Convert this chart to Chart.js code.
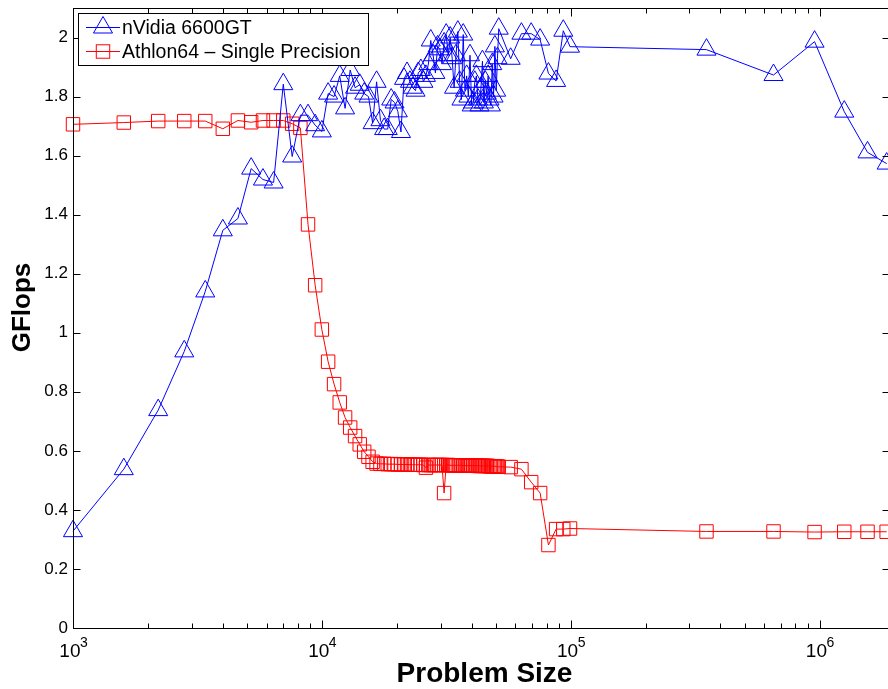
<!DOCTYPE html>
<html><head><meta charset="utf-8">
<script src="https://cdn.jsdelivr.net/npm/chart.js@4/dist/chart.umd.min.js"></script>
<style>
html,body{margin:0;padding:0;background:#fff;overflow:hidden;width:888px;height:689px;}
#wrap{position:absolute;left:0;top:0;width:890px;height:689px;}
</style></head><body>
<div id="wrap"><canvas id="c"></canvas></div>
<script>
const problemSize = [1000,1600,2200,2800,3400,4000,4600,5200,5800,6400,7000,7600,8200,8800,9400,10000,
  10600,11200,11800,12400,13000,13600,14200,14800,15400,16000,
  16600,17200,17800,18400,19000,19600,20200,20800,21400,22000,
  22600,23200,23800,24400,25000,25600,26200,26800,27400,28000,
  28600,29200,29800,30400,31000,31600,32200,32800,33400,34000,
  34600,35200,35800,36400,37000,37600,38200,38800,39400,40000,
  40600,41200,41800,42400,43000,43600,44200,44800,45400,46000,
  46600,47200,47800,48400,49000,49600,50200,50800,51400,
  57400,63400,69400,75400,81400,87400,93400,99400,351400,653400,955400,1257400,1559400,1861400];

const gpuGflops = [0.328,0.538,0.738,0.937,1.140,1.347,1.387,1.556,1.519,1.509,1.842,1.597,1.737,1.737,1.703,1.682,
  1.81,1.80,1.87,1.76,1.89,1.83,1.84,1.81,1.80,1.71,
  1.85,1.72,1.69,1.69,1.79,1.78,1.75,1.68,1.86,1.88,
  1.85,1.83,1.82,1.88,1.89,1.85,1.87,1.91,1.99,1.94,
  1.88,1.97,1.96,1.91,1.98,2.01,1.94,2.00,1.93,1.83,
  1.94,2.02,1.85,1.79,2.01,1.82,1.87,1.80,1.94,1.77,
  1.78,1.85,1.87,1.79,1.77,1.83,1.92,1.78,1.85,1.81,
  1.87,1.79,1.77,1.91,1.80,1.97,1.82,1.93,2.03,
  1.928,2.013,2.013,1.993,1.878,1.853,2.023,1.969,1.959,1.873,1.986,1.749,1.611,1.573];

const cpuGflops = [1.706,1.712,1.717,1.717,1.717,1.691,1.719,1.713,1.719,1.719,1.719,1.708,1.694,
  1.367,1.161,1.011,0.902,0.826,0.764,0.713,0.679,0.650,0.622,0.597,0.580,0.563,
  0.557,0.556,0.556,0.555,0.555,0.555,0.554,0.554,0.554,0.554,
  0.553,0.553,0.553,0.553,0.553,0.552,0.543,0.552,0.552,0.552,
  0.552,0.552,0.552,0.552,0.457,0.552,0.552,0.551,0.551,0.551,
  0.551,0.551,0.551,0.551,0.550,0.550,0.550,0.550,0.550,0.550,
  0.550,0.550,0.550,0.549,0.549,0.549,0.549,0.549,0.549,0.549,
  0.549,0.548,0.548,0.548,0.548,0.548,0.547,0.547,0.546,
  0.545,0.538,0.494,0.457,0.281,0.335,0.335,0.337,0.327,0.327,0.325,0.326,0.326,0.326];

const seriesNames = ['nVidia 6600GT', 'Athlon64 \u2013 Single Precision'];
const seriesColors = ['#0000ff', '#ff0000'];
const xTickExponents = [3, 4, 5, 6];
const yTickValues = [0, 0.2, 0.4, 0.6, 0.8, 1, 1.2, 1.4, 1.6, 1.8, 2];
const xAxisTitle = 'Problem Size';
const yAxisTitle = 'GFlops';

const FONT = '"Liberation Sans", Arial, Helvetica, sans-serif';
const TRI_R = 11, SQ_R = 9.5;

function drawTri(ctx, cx, cy, r) {
  ctx.beginPath();
  ctx.moveTo(cx, cy - r);
  ctx.lineTo(cx + r * 0.8660254, cy + r / 2);
  ctx.lineTo(cx - r * 0.8660254, cy + r / 2);
  ctx.closePath();
  ctx.stroke();
}
function drawSq(ctx, cx, cy, r) {
  const s = r * Math.SQRT1_2;
  ctx.strokeRect(cx - s, cy - s, 2 * s, 2 * s);
}

const matlabAxes = {
  id: 'matlabAxes',
  afterDraw(chart) {
    const {ctx, chartArea: a, scales: {x, y}} = chart;
    ctx.save();
    ctx.strokeStyle = '#000';
    ctx.lineWidth = 1;
    const L = Math.round(a.left) + 0.5, R = Math.round(a.right) - 0.5;
    const T = Math.round(a.top) + 0.5, B = Math.round(a.bottom) + 0.5;
    ctx.strokeRect(L, T, R - L, B - T);
    ctx.beginPath();
    yTickValues.forEach(v => {
      const py = Math.round(y.getPixelForValue(v)) + 0.5;
      ctx.moveTo(L, py); ctx.lineTo(L + 7, py);
      ctx.moveTo(R, py); ctx.lineTo(R - 7, py);
    });
    xTickExponents.forEach(e => {
      for (let m = 1; m <= 9; m++) {
        const v = m * Math.pow(10, e);
        if (v > x.max) break;
        const px = Math.round(x.getPixelForValue(v)) + 0.5;
        const len = m === 1 ? 8 : 5;
        ctx.moveTo(px, B); ctx.lineTo(px, B - len);
        ctx.moveTo(px, T); ctx.lineTo(px, T + len);
      }
    });
    ctx.stroke();
    // x tick labels: 10 with superscript exponent
    ctx.fillStyle = '#000';
    ctx.textBaseline = 'alphabetic';
    xTickExponents.forEach(e => {
      const px = x.getPixelForValue(Math.pow(10, e));
      ctx.font = '19px ' + FONT;
      ctx.textAlign = 'right';
      ctx.fillText('10', px + 7.5, 657);
      ctx.font = '14px ' + FONT;
      ctx.textAlign = 'left';
      ctx.fillText(String(e), px + 7, 647);
    });
    // axis titles
    ctx.font = 'bold 28px ' + FONT;
    ctx.textAlign = 'center';
    ctx.textBaseline = 'middle';
    ctx.fillText(xAxisTitle, 484.5, 674);
    ctx.save();
    ctx.translate(23, 307.5);
    ctx.rotate(-Math.PI / 2);
    ctx.font = 'bold 26px ' + FONT;
    ctx.fillText(yAxisTitle, 0, 0);
    ctx.restore();
    // legend
    const bx = 78.5, by = 13.5, bw = 290, bh = 52;
    ctx.fillStyle = '#fff';
    ctx.fillRect(bx, by, bw, bh);
    ctx.strokeStyle = '#000';
    ctx.strokeRect(bx, by, bw, bh);
    const rows = [27.5, 51.5];
    chart.data.datasets.forEach((ds, i) => {
      const yy = rows[i];
      ctx.strokeStyle = ds.borderColor;
      ctx.beginPath(); ctx.moveTo(86, yy); ctx.lineTo(120, yy); ctx.stroke();
      if (i === 0) drawTri(ctx, 103, yy, TRI_R); else drawSq(ctx, 103, yy, SQ_R);
      ctx.fillStyle = '#000';
      ctx.font = '19.5px ' + FONT;
      ctx.textAlign = 'left';
      ctx.textBaseline = 'middle';
      ctx.fillText(ds.label, 122, yy + 1);
    });
    ctx.restore();
  }
};

const toPoints = ys => problemSize.map((v, i) => ({x: v, y: ys[i]}));

new Chart(document.getElementById('c'), {
  type: 'line',
  data: {
    datasets: [
      {label: seriesNames[0], data: toPoints(gpuGflops), borderColor: seriesColors[0], borderWidth: 1,
       pointStyle: 'triangle', pointRadius: TRI_R, pointBorderColor: seriesColors[0], pointBorderWidth: 1,
       pointBackgroundColor: 'rgba(0,0,0,0)', tension: 0, clip: false},
      {label: seriesNames[1], data: toPoints(cpuGflops), borderColor: seriesColors[1], borderWidth: 1,
       pointStyle: 'rect', pointRadius: SQ_R, pointBorderColor: seriesColors[1], pointBorderWidth: 1,
       pointBackgroundColor: 'rgba(0,0,0,0)', tension: 0, clip: false}
    ]
  },
  options: {
    responsive: true, maintainAspectRatio: false, animation: false, devicePixelRatio: 1,
    layout: {autoPadding: false, padding: {top: 8, right: 0, left: 0, bottom: 0}},
    plugins: {legend: {display: false}, tooltip: {enabled: false}},
    scales: {
      x: {type: 'logarithmic', min: 1000, max: 1.92e6, position: 'bottom',
          grid: {display: false, drawTicks: false}, border: {display: false},
          ticks: {display: false},
          title: {display: false, text: xAxisTitle},
          afterFit: s => { s.height = 61; s.paddingLeft = 0; s.paddingRight = 0; }},
      y: {type: 'linear', min: 0, max: 2.1, position: 'left',
          grid: {display: false, drawTicks: false}, border: {display: false},
          ticks: {stepSize: 0.2, includeBounds: false, color: '#000', padding: 5,
                  font: {family: FONT, size: 17},
                  callback: v => String(Math.round(v * 10) / 10)},
          title: {display: false, text: yAxisTitle},
          afterFit: s => { s.width = 73; s.paddingTop = 0; s.paddingBottom = 0; }}
    }
  },
  plugins: [matlabAxes]
});
</script>
</body></html>
